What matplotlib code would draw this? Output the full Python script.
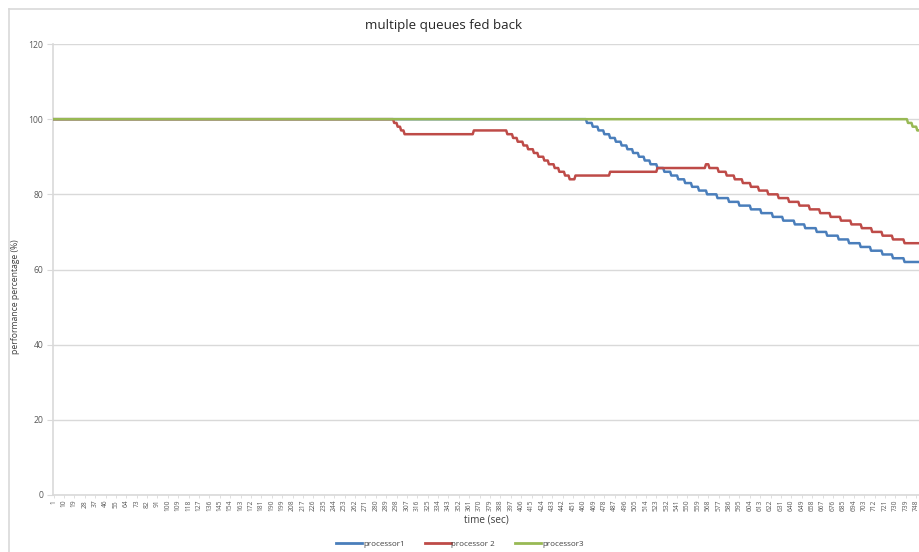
import numpy as np
import matplotlib
matplotlib.use("Agg")
import matplotlib.pyplot as plt
from matplotlib.lines import Line2D

plt.rcParams['font.family'] = ['Open Sans', 'DejaVu Sans']

# last second of the run
t_end = 750

# each series kept as (second where value changes, new value)
p1_t = [1, 460, 463, 468, 473, 478, 483, 488, 493, 498, 503, 508, 513, 518,
        524, 530, 536, 542, 548, 554, 560, 567, 576, 586, 595, 605, 614, 624,
        633, 643, 652, 662, 671, 681, 690, 700, 709, 719, 728, 738]
p1_v = [100, 100, 99, 98, 97, 96, 95, 94, 93, 92, 91, 90, 89, 88,
        87, 86, 85, 84, 83, 82, 81, 80, 79, 78, 77, 76, 75, 74,
        73, 72, 71, 70, 69, 68, 67, 66, 65, 64, 63, 62]

p2_t = [1, 296, 299, 302, 305, 365, 394, 399, 403, 408, 412, 417, 421, 426,
        430, 435, 439, 444, 448, 453, 483, 524, 566, 569, 577, 584, 591, 598,
        605, 612, 620, 629, 638, 647, 656, 665, 674, 683, 692, 701, 710, 719,
        728, 738]
p2_v = [100, 99, 98, 97, 96, 97, 96, 95, 94, 93, 92, 91, 90, 89,
        88, 87, 86, 85, 84, 85, 86, 87, 88, 87, 86, 85, 84, 83,
        82, 81, 80, 79, 78, 77, 76, 75, 74, 73, 72, 71, 70, 69,
        68, 67]

p3_t = [1, 741, 745, 749]
p3_v = [100, 99, 98, 97]

names = ['processor1', 'processor 2', 'processor3']
colors = ['#4a7ebb', '#be4b48', '#98b954']


def expand(change_t, change_v):
    """ per-second values from the change points """
    secs = np.arange(1, t_end + 1)
    idx = np.searchsorted(change_t, secs, side='right') - 1
    return secs, np.array(change_v)[idx]


fig = plt.figure(figsize=(9.19, 5.52), dpi=100)
ax = fig.add_axes([53 / 919, 1 - 495 / 552, 866 / 919, 451 / 552])

for (ct, cv), name, col in zip([(p1_t, p1_v), (p2_t, p2_v), (p3_t, p3_v)],
                               names, colors):
    secs, vals = expand(ct, cv)
    ax.plot(secs, vals, color=col, lw=1.8, label=name, zorder=3)

ax.set_xlim(0.5, t_end + 0.5)
ax.set_ylim(0, 120)
ax.set_yticks(range(0, 121, 20))
ax.yaxis.grid(True, color='#d9d9d9', lw=1)
ax.set_axisbelow(True)

xt = list(range(1, t_end + 1, 9))
ax.set_xticks(xt)
ax.set_xticklabels([str(v) for v in xt], rotation=90, fontsize=4.8,
                   color='#595959')
ax.tick_params(axis='x', length=2, width=0.6, color='#d9d9d9', pad=1.5)
ax.tick_params(axis='y', length=4, width=0.8, color='#d9d9d9',
               labelsize=6.2, labelcolor='#595959', pad=3)

for side in ['top', 'right']:
    ax.spines[side].set_visible(False)
for side in ['left', 'bottom']:
    ax.spines[side].set_color('#d9d9d9')
    ax.spines[side].set_linewidth(1.2)

ax.set_xlabel('time (sec)', fontsize=7.2, color='#404040', labelpad=2)
ax.set_ylabel('performance percentage (%)', fontsize=6.2, color='#404040')
ax.yaxis.set_label_coords(-0.038, 0.44)
fig.text(444 / 919, 1 - 25 / 552, 'multiple queues fed back', ha='center',
         va='center', fontsize=9.6, color='#262626')

handles = [Line2D([], [], color=c, lw=2) for c in colors]
fig.legend(handles, names, loc='center', bbox_to_anchor=(460 / 919, 1 - 544 / 552),
           ncol=3, frameon=False, fontsize=5.8, handlelength=3.2,
           handletextpad=0.1, columnspacing=2.5, labelcolor='#404040')

# chart frame on the left and top
fig.add_artist(Line2D([9 / 919, 9 / 919], [0, 1 - 9 / 552], color='#d9d9d9',
                      lw=1.2, transform=fig.transFigure))
fig.add_artist(Line2D([9 / 919, 1], [1 - 9 / 552, 1 - 9 / 552],
                      color='#d9d9d9', lw=1.2, transform=fig.transFigure))

fig.savefig('out.png', dpi=100)
